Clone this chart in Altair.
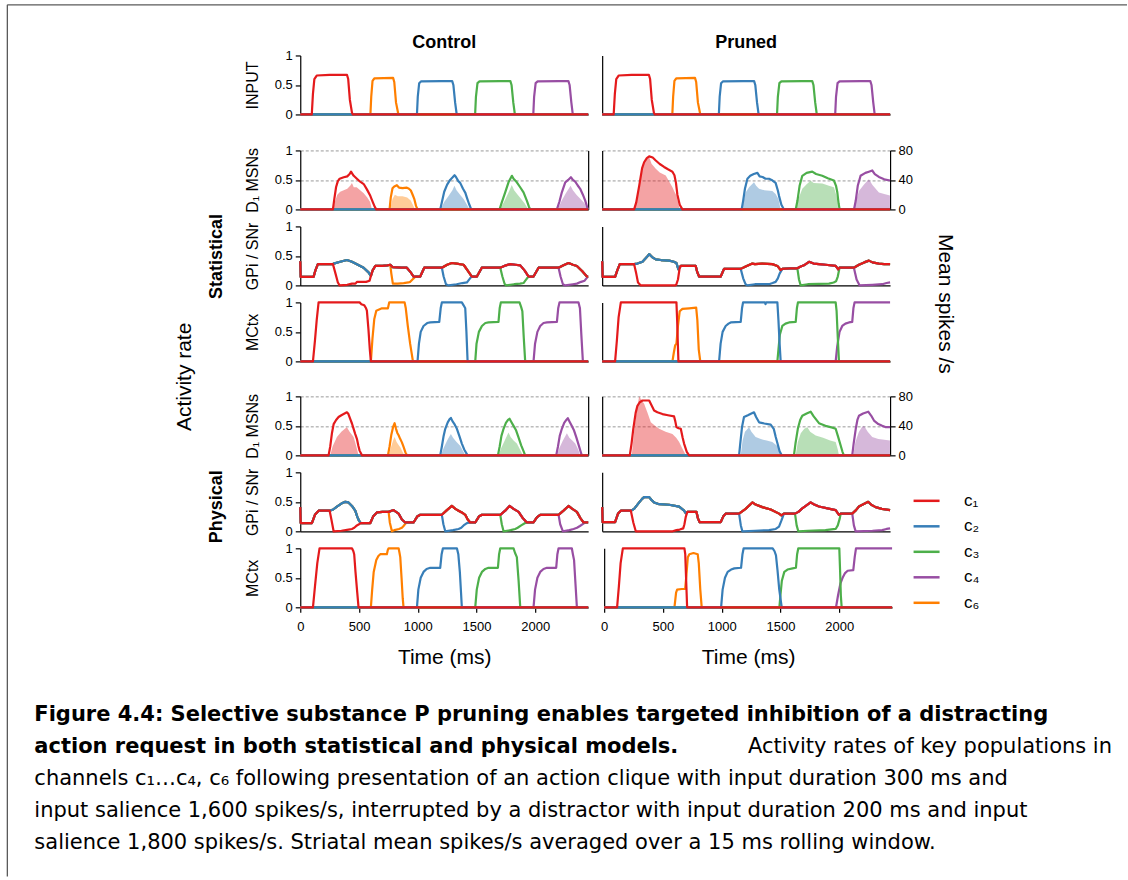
import altair as alt
import pandas as pd

FONT = "Liberation Sans"
CAPTION_FONT = "DejaVu Sans"

CHANNELS = ["c1", "c2", "c3", "c4", "c6"]
LABELS = {"c1": "c₁", "c2": "c₂", "c3": "c₃", "c4": "c₄", "c6": "c₆"}
COLORS = {"c1": "#e41a1c", "c2": "#377eb8", "c3": "#4daf4a", "c4": "#984ea3", "c6": "#ff7f00"}
DRAW_ORDER = ["c6", "c4", "c3", "c2", "c1"]  # c1 ends up on top

T_END = 2450
TIME_TICKS = [0, 500, 1000, 1500, 2000]
RATE_TICKS = [0, 0.5, 1]
SPIKE_TICKS = [0, 40, 80]

# ---------------------------------------------------------------- input drive
INPUT = {
    "c1": [(0, 0), (98, 0), (108, 0.35), (120, 0.6), (140, 0.66), (250, 0.67), (398, 0.67), (408, 0.6), (422, 0.25), (440, 0.03), (448, 0), (2450, 0)],
    "c6": [(0, 0), (597, 0), (604, 0.3), (615, 0.57), (630, 0.61), (790, 0.62), (800, 0.55), (815, 0.2), (833, 0.02), (840, 0), (2450, 0)],
    "c2": [(0, 0), (993, 0), (1000, 0.3), (1012, 0.53), (1027, 0.56), (1200, 0.565), (1293, 0.565), (1303, 0.5), (1318, 0.2), (1330, 0.02), (1336, 0), (2450, 0)],
    "c3": [(0, 0), (1488, 0), (1495, 0.3), (1508, 0.53), (1525, 0.56), (1700, 0.565), (1788, 0.565), (1798, 0.5), (1813, 0.2), (1825, 0.02), (1831, 0), (2450, 0)],
    "c4": [(0, 0), (1983, 0), (1990, 0.3), (2003, 0.53), (2020, 0.56), (2200, 0.565), (2282, 0.565), (2292, 0.5), (2307, 0.2), (2318, 0.02), (2324, 0), (2450, 0)],
}

# ---------------------------------------------------------- statistical model
STAT_CTRL_MSN = {
    "c1": [(0, 0), (278, 0), (290, 0.18), (305, 0.38), (320, 0.48), (335, 0.52), (370, 0.545), (400, 0.56), (420, 0.6), (432, 0.64), (445, 0.6), (455, 0.57), (482, 0.52), (510, 0.47), (540, 0.43), (567, 0.34), (596, 0.23), (618, 0.12), (635, 0.04), (647, 0), (2450, 0)],
    "c6": [(0, 0), (760, 0), (770, 0.2), (785, 0.36), (800, 0.39), (822, 0.41), (840, 0.37), (870, 0.36), (907, 0.37), (925, 0.35), (941, 0.32), (958, 0.24), (970, 0.18), (985, 0.06), (998, 0), (2450, 0)],
    "c2": [(0, 0), (1191, 0), (1205, 0.12), (1225, 0.3), (1250, 0.42), (1275, 0.5), (1295, 0.54), (1313, 0.58), (1325, 0.55), (1345, 0.48), (1361, 0.45), (1385, 0.35), (1405, 0.28), (1418, 0.2), (1435, 0.1), (1455, 0), (2450, 0)],
    "c3": [(0, 0), (1696, 0), (1715, 0.12), (1744, 0.29), (1772, 0.46), (1790, 0.53), (1801, 0.57), (1815, 0.52), (1843, 0.46), (1870, 0.38), (1900, 0.29), (1928, 0.15), (1945, 0.05), (1957, 0), (2450, 0)],
    "c4": [(0, 0), (2184, 0), (2205, 0.13), (2226, 0.29), (2255, 0.46), (2280, 0.5), (2303, 0.545), (2320, 0.5), (2340, 0.47), (2360, 0.41), (2382, 0.35), (2405, 0.25), (2425, 0.15), (2447, 0), (2450, 0)],
}
STAT_CTRL_SPIKES = {
    "c1": [(280, 0), (295, 10), (315, 20), (340, 24), (370, 26), (400, 28), (425, 32), (440, 36), (455, 30), (480, 30), (510, 26), (540, 22), (570, 16), (595, 10), (610, 0)],
    "c6": [(765, 0), (785, 14), (805, 20), (830, 18), (870, 18), (910, 16), (940, 12), (965, 4), (975, 0)],
    "c2": [(1195, 0), (1225, 10), (1260, 18), (1295, 26), (1312, 32), (1330, 26), (1360, 20), (1390, 14), (1420, 6), (1440, 0)],
    "c3": [(1700, 0), (1740, 12), (1775, 24), (1800, 33), (1820, 26), (1850, 20), (1880, 14), (1910, 8), (1940, 0)],
    "c4": [(2190, 0), (2225, 12), (2260, 22), (2300, 32), (2320, 26), (2350, 20), (2385, 14), (2420, 8), (2440, 0)],
}
STAT_PRUN_MSN = {
    "c1": [(0, 0), (272, 0), (290, 0.12), (315, 0.4), (340, 0.7), (357, 0.8), (380, 0.87), (400, 0.9), (430, 0.88), (456, 0.83), (490, 0.77), (527, 0.72), (560, 0.68), (598, 0.64), (615, 0.58), (628, 0.45), (640, 0.25), (660, 0.08), (683, 0), (2450, 0)],
    "c6": [(0, 0), (2450, 0)],
    "c2": [(0, 0), (1187, 0), (1200, 0.15), (1215, 0.35), (1236, 0.52), (1260, 0.57), (1290, 0.6), (1321, 0.62), (1340, 0.56), (1365, 0.55), (1390, 0.52), (1420, 0.52), (1450, 0.49), (1476, 0.45), (1495, 0.32), (1505, 0.23), (1525, 0.08), (1547, 0), (2450, 0)],
    "c3": [(0, 0), (1647, 0), (1662, 0.15), (1680, 0.4), (1703, 0.57), (1740, 0.62), (1788, 0.64), (1820, 0.6), (1873, 0.57), (1920, 0.53), (1972, 0.49), (1990, 0.4), (2001, 0.29), (2012, 0.1), (2021, 0), (2450, 0)],
    "c4": [(0, 0), (2143, 0), (2158, 0.15), (2175, 0.4), (2199, 0.57), (2240, 0.62), (2270, 0.64), (2298, 0.66), (2320, 0.6), (2355, 0.55), (2400, 0.51), (2450, 0.49)],
}
STAT_PRUN_SPIKES = {
    "c1": [(275, 0), (290, 10), (315, 32), (340, 52), (357, 64), (380, 68), (400, 71), (420, 62), (456, 55), (490, 50), (541, 46), (570, 38), (598, 30), (615, 24), (632, 19), (648, 8), (660, 0)],
    "c2": [(1190, 0), (1205, 12), (1221, 23), (1250, 30), (1292, 37), (1310, 32), (1335, 28), (1380, 26), (1448, 25), (1476, 21), (1500, 14), (1519, 0)],
    "c3": [(1650, 0), (1670, 14), (1703, 28), (1740, 34), (1774, 39), (1800, 36), (1873, 35), (1930, 32), (1972, 30), (1995, 18), (2009, 0)],
    "c4": [(2146, 0), (2165, 14), (2185, 25), (2230, 34), (2270, 41), (2300, 33), (2355, 23), (2400, 21), (2449, 19)],
}
# GPi / SNr: all unselected channels share one trace; a selected channel dips towards zero
STAT_CTRL_GPI = [(0, 0.41), (4, 0.145), (113, 0.145), (130, 0.26), (150, 0.36), (278, 0.36), (284, 0.37), (340, 0.4), (397, 0.43), (440, 0.4), (482, 0.36), (539, 0.3), (581, 0.22), (601, 0.16), (615, 0.25), (638, 0.33), (700, 0.33), (740, 0.34), (766, 0.35), (785, 0.31), (860, 0.3), (907, 0.3), (940, 0.22), (964, 0.15), (1021, 0.15), (1055, 0.3), (1205, 0.3), (1250, 0.35), (1290, 0.38), (1330, 0.37), (1390, 0.35), (1425, 0.25), (1460, 0.15), (1503, 0.15), (1545, 0.3), (1702, 0.3), (1750, 0.34), (1787, 0.36), (1830, 0.35), (1872, 0.34), (1910, 0.25), (1943, 0.15), (1985, 0.15), (2028, 0.3), (2198, 0.3), (2240, 0.34), (2283, 0.38), (2320, 0.35), (2354, 0.33), (2400, 0.24), (2439, 0.15), (2450, 0.15)]
STAT_CTRL_GPI_DIPS = {
    "c1": [(278, 0.36), (300, 0.2), (320, 0.05), (335, 0.0), (400, 0.01), (440, 0.03), (470, 0.03), (482, 0.06), (560, 0.06), (590, 0.08), (600, 0.15), (615, 0.25), (638, 0.33)],
    "c6": [(766, 0.35), (775, 0.2), (788, 0.03), (830, 0.03), (880, 0.04), (920, 0.05), (936, 0.06), (955, 0.1), (975, 0.14), (990, 0.15)],
    "c2": [(1205, 0.3), (1220, 0.15), (1240, 0.02), (1262, 0.0), (1330, 0.02), (1380, 0.04), (1418, 0.05), (1430, 0.08), (1445, 0.12), (1460, 0.15)],
    "c3": [(1702, 0.3), (1720, 0.15), (1740, 0.02), (1753, 0.0), (1820, 0.02), (1870, 0.03), (1900, 0.04), (1915, 0.08), (1930, 0.12), (1943, 0.15)],
    "c4": [(2198, 0.3), (2215, 0.15), (2235, 0.02), (2255, 0.0), (2320, 0.02), (2354, 0.03), (2390, 0.06), (2420, 0.08), (2447, 0.15)],
}
STAT_PRUN_GPI = [(0, 0.41), (4, 0.145), (110, 0.145), (128, 0.25), (150, 0.36), (272, 0.36), (300, 0.37), (343, 0.4), (380, 0.48), (400, 0.53), (425, 0.48), (456, 0.44), (500, 0.43), (570, 0.42), (610, 0.4), (632, 0.38), (649, 0.27), (669, 0.33), (796, 0.33), (810, 0.22), (825, 0.15), (1009, 0.15), (1037, 0.28), (1179, 0.28), (1221, 0.32), (1278, 0.37), (1300, 0.36), (1360, 0.37), (1448, 0.36), (1491, 0.33), (1519, 0.26), (1533, 0.28), (1600, 0.29), (1661, 0.29), (1690, 0.32), (1717, 0.34), (1760, 0.4), (1800, 0.37), (1845, 0.36), (1900, 0.35), (1987, 0.33), (2009, 0.27), (2020, 0.3), (2142, 0.3), (2185, 0.35), (2230, 0.39), (2270, 0.42), (2300, 0.39), (2355, 0.37), (2400, 0.36), (2450, 0.36)]
STAT_PRUN_GPI_DIPS = {
    "c1": [(272, 0.36), (290, 0.2), (305, 0.05), (329, 0), (500, 0), (620, 0.0), (630, 0.01), (645, 0.1), (660, 0.3), (669, 0.33)],
    "c2": [(1179, 0.28), (1200, 0.12), (1220, 0.02), (1236, 0), (1300, 0.02), (1420, 0.02), (1450, 0.04), (1476, 0.06), (1495, 0.12), (1510, 0.2), (1533, 0.28)],
    "c3": [(1661, 0.29), (1675, 0.1), (1689, 0), (1750, 0.02), (1930, 0.03), (1970, 0.05), (1990, 0.07), (2005, 0.15), (2020, 0.3)],
    "c4": [(2142, 0.3), (2165, 0.1), (2191, 0), (2300, 0.01), (2383, 0.02), (2420, 0.04), (2450, 0.05)],
}
STAT_CTRL_MCTX = {
    "c1": [(0, 0), (108, 0), (125, 0.35), (140, 0.7), (156, 1), (505, 1), (520, 0.97), (545, 0.95), (560, 0.9), (567, 0.86), (580, 0.55), (592, 0.2), (601, 0), (2450, 0)],
    "c6": [(0, 0), (601, 0), (615, 0.4), (630, 0.72), (647, 0.86), (695, 0.9), (746, 0.9), (757, 1), (888, 1), (898, 0.9), (915, 0.6), (935, 0.3), (959, 0), (2450, 0)],
    "c2": [(0, 0), (998, 0), (1010, 0.3), (1025, 0.5), (1049, 0.6), (1080, 0.65), (1106, 0.66), (1183, 0.67), (1195, 0.9), (1205, 1), (1375, 1), (1390, 0.95), (1404, 0.9), (1414, 0.5), (1424, 0), (2450, 0)],
    "c3": [(0, 0), (1489, 0), (1500, 0.3), (1520, 0.5), (1546, 0.6), (1575, 0.65), (1602, 0.66), (1687, 0.67), (1697, 0.9), (1707, 1), (1866, 1), (1880, 0.92), (1890, 0.85), (1902, 0.4), (1914, 0), (2450, 0)],
    "c4": [(0, 0), (1985, 0), (1998, 0.3), (2018, 0.5), (2042, 0.6), (2070, 0.65), (2099, 0.66), (2184, 0.67), (2195, 0.9), (2206, 1), (2368, 1), (2380, 0.9), (2392, 0.45), (2405, 0), (2450, 0)],
}
STAT_PRUN_MCTX = {
    "c1": [(0, 0), (110, 0), (125, 0.35), (140, 0.75), (159, 1), (632, 1), (638, 0.7), (644, 0.3), (649, 0), (2450, 0)],
    "c6": [(0, 0), (598, 0), (610, 0.15), (621, 0.27), (632, 0.3), (645, 0.6), (660, 0.85), (683, 0.89), (740, 0.9), (800, 0.91), (810, 0.7), (822, 0.2), (835, 0), (2450, 0)],
    "c2": [(0, 0), (995, 0), (1008, 0.3), (1025, 0.5), (1051, 0.6), (1075, 0.64), (1094, 0.66), (1179, 0.67), (1190, 0.9), (1199, 1), (1385, 1), (1390, 0.97), (1395, 1), (1491, 1), (1500, 0.7), (1510, 0.3), (1519, 0), (2450, 0)],
    "c3": [(0, 0), (1491, 0), (1500, 0.2), (1512, 0.45), (1533, 0.6), (1560, 0.64), (1590, 0.66), (1647, 0.67), (1657, 0.9), (1666, 1), (1987, 1), (1995, 0.85), (2005, 0.4), (2015, 0), (2450, 0)],
    "c4": [(0, 0), (1987, 0), (2000, 0.25), (2020, 0.5), (2043, 0.6), (2070, 0.64), (2100, 0.66), (2128, 0.67), (2138, 0.9), (2148, 1), (2450, 1)],
}

# ------------------------------------------------------------- physical model
PHYS_CTRL_MSN = {
    "c1": [(0, 0), (241, 0), (255, 0.15), (270, 0.38), (284, 0.53), (305, 0.6), (326, 0.65), (350, 0.68), (369, 0.7), (397, 0.73), (410, 0.7), (425, 0.62), (440, 0.54), (454, 0.45), (468, 0.36), (482, 0.28), (495, 0.16), (505, 0.08), (525, 0), (2450, 0)],
    "c6": [(0, 0), (746, 0), (760, 0.15), (775, 0.35), (790, 0.48), (803, 0.545), (815, 0.45), (826, 0.38), (837, 0.34), (850, 0.28), (865, 0.22), (880, 0.14), (895, 0.05), (908, 0), (2450, 0)],
    "c2": [(0, 0), (1191, 0), (1205, 0.15), (1220, 0.33), (1234, 0.45), (1255, 0.56), (1270, 0.61), (1282, 0.635), (1295, 0.58), (1315, 0.52), (1333, 0.45), (1355, 0.32), (1375, 0.2), (1395, 0.1), (1424, 0), (2450, 0)],
    "c3": [(0, 0), (1682, 0), (1697, 0.15), (1712, 0.33), (1730, 0.45), (1750, 0.55), (1768, 0.6), (1781, 0.62), (1795, 0.57), (1815, 0.5), (1835, 0.43), (1858, 0.3), (1880, 0.17), (1900, 0.07), (1914, 0), (2450, 0)],
    "c4": [(0, 0), (2178, 0), (2193, 0.15), (2208, 0.33), (2226, 0.45), (2246, 0.55), (2264, 0.6), (2277, 0.63), (2292, 0.57), (2310, 0.5), (2330, 0.42), (2350, 0.3), (2370, 0.17), (2385, 0.07), (2396, 0), (2450, 0)],
}
PHYS_CTRL_SPIKES = {
    "c1": [(255, 0), (275, 12), (312, 25), (350, 32), (380, 36), (397, 38), (420, 32), (440, 28), (454, 25), (470, 16), (482, 9), (496, 0)],
    "c6": [(752, 0), (770, 10), (790, 20), (803, 25), (820, 18), (837, 14), (851, 11), (870, 5), (885, 0)],
    "c2": [(1197, 0), (1220, 10), (1250, 20), (1270, 26), (1282, 29), (1300, 24), (1330, 18), (1361, 13), (1385, 6), (1404, 0)],
    "c3": [(1687, 0), (1710, 10), (1740, 20), (1760, 27), (1772, 31), (1790, 25), (1815, 20), (1843, 16), (1870, 8), (1894, 0)],
    "c4": [(2184, 0), (2205, 10), (2235, 20), (2255, 26), (2269, 30), (2290, 24), (2315, 20), (2340, 16), (2365, 8), (2382, 0)],
}
PHYS_PRUN_MSN = {
    "c1": [(0, 0), (235, 0), (250, 0.2), (265, 0.45), (285, 0.72), (300, 0.84), (320, 0.9), (343, 0.93), (400, 0.93), (420, 0.85), (442, 0.76), (470, 0.73), (513, 0.7), (560, 0.68), (612, 0.66), (622, 0.58), (632, 0.48), (650, 0.46), (669, 0.45), (685, 0.3), (697, 0.2), (720, 0.06), (740, 0), (2450, 0)],
    "c6": [(0, 0), (2450, 0)],
    "c2": [(0, 0), (1165, 0), (1175, 0.2), (1190, 0.48), (1207, 0.65), (1240, 0.68), (1270, 0.71), (1292, 0.73), (1310, 0.65), (1335, 0.56), (1380, 0.54), (1434, 0.52), (1460, 0.45), (1477, 0.31), (1495, 0.18), (1510, 0.07), (1528, 0), (2450, 0)],
    "c3": [(0, 0), (1632, 0), (1645, 0.2), (1665, 0.45), (1685, 0.6), (1703, 0.67), (1740, 0.71), (1774, 0.74), (1800, 0.66), (1845, 0.545), (1900, 0.5), (1960, 0.47), (1987, 0.45), (2010, 0.3), (2029, 0.17), (2045, 0.06), (2057, 0), (2450, 0)],
    "c4": [(0, 0), (2128, 0), (2140, 0.2), (2158, 0.45), (2172, 0.6), (2185, 0.67), (2220, 0.71), (2264, 0.74), (2290, 0.67), (2313, 0.59), (2350, 0.53), (2383, 0.5), (2410, 0.48), (2450, 0.48)],
}
PHYS_PRUN_SPIKES = {
    "c1": [(252, 0), (270, 30), (285, 50), (300, 67), (315, 80), (330, 76), (357, 70), (385, 58), (414, 45), (450, 40), (485, 36), (540, 32), (598, 29), (630, 24), (655, 18), (680, 10), (700, 4), (711, 0)],
    "c2": [(1179, 0), (1195, 20), (1215, 32), (1250, 38), (1270, 32), (1306, 25), (1350, 22), (1400, 20), (1448, 18), (1480, 14), (1505, 11), (1519, 0)],
    "c3": [(1647, 0), (1665, 18), (1690, 30), (1720, 36), (1746, 38), (1770, 32), (1817, 27), (1880, 24), (1940, 20), (1987, 18), (2005, 8), (2015, 0)],
    "c4": [(2137, 0), (2155, 18), (2185, 32), (2210, 38), (2228, 40), (2260, 32), (2298, 25), (2350, 22), (2400, 21), (2449, 20)],
}
PHYS_CTRL_GPI = [(0, 0.41), (4, 0.14), (99, 0.14), (125, 0.28), (156, 0.35), (250, 0.35), (280, 0.37), (312, 0.42), (350, 0.47), (383, 0.5), (410, 0.49), (440, 0.43), (468, 0.35), (485, 0.25), (500, 0.18), (515, 0.14), (596, 0.14), (620, 0.25), (652, 0.32), (700, 0.33), (752, 0.33), (794, 0.36), (815, 0.33), (837, 0.3), (865, 0.2), (893, 0.15), (964, 0.15), (995, 0.25), (1021, 0.28), (1205, 0.28), (1248, 0.36), (1290, 0.43), (1320, 0.38), (1347, 0.35), (1375, 0.32), (1404, 0.28), (1425, 0.2), (1446, 0.15), (1489, 0.15), (1520, 0.25), (1546, 0.28), (1702, 0.28), (1744, 0.35), (1781, 0.43), (1815, 0.38), (1858, 0.33), (1895, 0.22), (1928, 0.15), (1985, 0.15), (2015, 0.24), (2042, 0.28), (2198, 0.28), (2240, 0.35), (2283, 0.43), (2315, 0.38), (2354, 0.33), (2385, 0.22), (2411, 0.15), (2450, 0.15)]
PHYS_CTRL_GPI_DIPS = {
    "c1": [(250, 0.35), (265, 0.2), (284, 0), (350, 0.01), (411, 0.03), (440, 0.04), (460, 0.06), (482, 0.1), (500, 0.12), (515, 0.14)],
    "c6": [(752, 0.33), (762, 0.15), (780, 0.0), (800, 0.02), (840, 0.04), (865, 0.06), (879, 0.09), (895, 0.13), (908, 0.15)],
    "c2": [(1205, 0.28), (1218, 0.12), (1234, 0), (1300, 0.02), (1347, 0.04), (1370, 0.06), (1390, 0.1), (1418, 0.14), (1446, 0.15)],
    "c3": [(1702, 0.28), (1715, 0.12), (1730, 0), (1790, 0.02), (1829, 0.04), (1850, 0.06), (1880, 0.1), (1914, 0.14), (1928, 0.15)],
    "c4": [(2198, 0.28), (2212, 0.12), (2235, 0), (2290, 0.02), (2326, 0.04), (2355, 0.06), (2380, 0.09), (2410, 0.13), (2425, 0.15)],
}
PHYS_PRUN_GPI = [(0, 0.41), (4, 0.155), (110, 0.155), (135, 0.3), (159, 0.35), (244, 0.35), (272, 0.38), (315, 0.49), (340, 0.55), (357, 0.58), (400, 0.58), (420, 0.53), (442, 0.49), (485, 0.46), (570, 0.45), (655, 0.42), (697, 0.35), (711, 0.31), (725, 0.33), (802, 0.33), (815, 0.22), (830, 0.155), (1009, 0.155), (1030, 0.25), (1051, 0.3), (1165, 0.3), (1221, 0.38), (1278, 0.49), (1300, 0.46), (1363, 0.41), (1434, 0.37), (1505, 0.3), (1525, 0.27), (1547, 0.3), (1641, 0.3), (1670, 0.33), (1703, 0.39), (1774, 0.49), (1800, 0.46), (1845, 0.42), (1987, 0.36), (2015, 0.28), (2030, 0.3), (2128, 0.3), (2160, 0.36), (2185, 0.42), (2264, 0.5), (2290, 0.45), (2327, 0.41), (2380, 0.38), (2450, 0.36)]
PHYS_PRUN_GPI_DIPS = {
    "c1": [(244, 0.35), (265, 0.15), (286, 0), (600, 0), (632, 0.02), (660, 0.03), (690, 0.05), (700, 0.12), (712, 0.25), (725, 0.33)],
    "c2": [(1165, 0.3), (1180, 0.1), (1193, 0), (1300, 0.01), (1420, 0.02), (1477, 0.04), (1505, 0.08), (1525, 0.18), (1547, 0.3)],
    "c3": [(1641, 0.3), (1655, 0.1), (1669, 0), (1750, 0.01), (1900, 0.02), (1987, 0.04), (2005, 0.1), (2022, 0.22), (2030, 0.3)],
    "c4": [(2128, 0.3), (2142, 0.1), (2157, 0), (2300, 0.01), (2383, 0.02), (2420, 0.04), (2450, 0.05)],
}
PHYS_CTRL_MCTX = {
    "c1": [(0, 0), (108, 0), (125, 0.35), (145, 0.75), (164, 1), (440, 1), (452, 0.95), (459, 0.9), (470, 0.6), (485, 0.25), (496, 0), (2450, 0)],
    "c6": [(0, 0), (601, 0), (612, 0.3), (625, 0.6), (647, 0.8), (665, 0.87), (681, 0.9), (737, 0.9), (745, 0.97), (752, 1), (837, 1), (844, 0.93), (851, 0.85), (862, 0.5), (872, 0.15), (879, 0), (2450, 0)],
    "c2": [(0, 0), (993, 0), (1005, 0.3), (1025, 0.5), (1049, 0.6), (1075, 0.65), (1106, 0.67), (1191, 0.67), (1203, 0.9), (1214, 1), (1333, 1), (1345, 0.9), (1358, 0.6), (1368, 0.25), (1375, 0), (2450, 0)],
    "c3": [(0, 0), (1489, 0), (1502, 0.3), (1522, 0.5), (1546, 0.6), (1575, 0.65), (1602, 0.67), (1682, 0.67), (1692, 0.9), (1702, 1), (1815, 1), (1828, 0.92), (1843, 0.85), (1858, 0.45), (1872, 0), (2450, 0)],
    "c4": [(0, 0), (1985, 0), (1998, 0.3), (2018, 0.5), (2042, 0.6), (2070, 0.65), (2099, 0.67), (2178, 0.67), (2188, 0.9), (2198, 1), (2311, 1), (2320, 0.9), (2330, 0.8), (2342, 0.4), (2354, 0), (2450, 0)],
}
PHYS_PRUN_MCTX = {
    "c1": [(0, 0), (110, 0), (125, 0.35), (140, 0.75), (159, 1), (683, 1), (690, 0.9), (697, 0.5), (706, 0), (2450, 0)],
    "c6": [(0, 0), (598, 0), (605, 0.12), (612, 0.25), (621, 0.3), (660, 0.31), (689, 0.31), (700, 0.55), (712, 0.85), (725, 0.9), (760, 0.92), (796, 0.9), (805, 0.75), (818, 0.3), (830, 0), (2450, 0)],
    "c2": [(0, 0), (995, 0), (1008, 0.3), (1028, 0.5), (1051, 0.6), (1080, 0.64), (1108, 0.66), (1165, 0.67), (1177, 0.9), (1187, 1), (1434, 1), (1450, 0.95), (1462, 0.88), (1475, 0.63), (1490, 0.3), (1511, 0), (2450, 0)],
    "c3": [(0, 0), (1491, 0), (1500, 0.2), (1512, 0.45), (1533, 0.6), (1560, 0.64), (1604, 0.66), (1632, 0.67), (1642, 0.9), (1652, 1), (2001, 1), (2008, 0.6), (2014, 0.2), (2021, 0), (2450, 0)],
    "c4": [(0, 0), (1973, 0), (1990, 0.2), (2010, 0.4), (2029, 0.5), (2050, 0.58), (2072, 0.62), (2120, 0.63), (2132, 0.85), (2143, 1), (2450, 1)],
}

CAPTION_BOLD = [
    "Figure 4.4: Selective substance P pruning enables targeted inhibition of a distracting",
    "action request in both statistical and physical models.",
]
CAPTION_TAIL = ["Activity rates of key populations in"]
CAPTION_BODY = [
    "channels c₁…c₄, c₆ following presentation of an action clique with input duration 300 ms and",
    "input salience 1,600 spikes/s, interrupted by a distractor with input duration 200 ms and input",
    "salience 1,800 spikes/s. Striatal mean spikes/s averaged over a 15 ms rolling window.",
]

# ------------------------------------------------------------------- helpers
W, H = 288, 59


def splice(common, dip):
    """Shared GPi trace with one channel's own dip substituted in its window."""
    t0, t1 = dip[0][0], dip[-1][0]
    return [p for p in common if p[0] < t0] + dip + [p for p in common if p[0] > t1]


def gpi_traces(common, dips):
    return {c: (splice(common, dips[c]) if c in dips else list(common)) for c in CHANNELS}


def frame(points, ch, key="v"):
    return pd.DataFrame({"t": [p[0] for p in points], key: [p[1] for p in points], "ch": LABELS[ch]})


X_SCALE = alt.Scale(domain=[0, T_END], nice=False, zero=False)
RATE_SCALE = alt.Scale(domain=[0, 1], nice=False)
SPIKE_SCALE = alt.Scale(domain=[0, 80], nice=False)
COLOR_SCALE = alt.Scale(domain=[LABELS[c] for c in CHANNELS], range=[COLORS[c] for c in CHANNELS])
LEGEND = alt.Legend(
    title=None, orient="none", legendX=612, legendY=431, symbolType="stroke",
    symbolSize=676, symbolStrokeWidth=2.5, labelFont=FONT, labelFontSize=17,
    labelColor="black", labelOffset=23, rowPadding=2.5, padding=0,
)


def panel(traces, left, ytitle=None, spikes=None, bottom=False, spike_labels=False):
    if bottom:
        x_axis = alt.Axis(values=TIME_TICKS, format="d", title="Time (ms)", titleFontSize=21,
                          titlePadding=13, labelPadding=8, tickSize=5, labelFlush=False)
    else:
        x_axis = alt.Axis(labels=False, ticks=False, title=None)
    x = alt.X("t:Q", scale=X_SCALE, axis=x_axis)

    grid = dict(grid=True, gridDash=[3, 2], gridColor="#808080", gridWidth=0.8) if spikes is not None else {}
    if left:
        y_axis = alt.Axis(orient="left", values=RATE_TICKS, format="~g", title=ytitle,
                          tickSize=5, labelPadding=3, titlePadding=14, **grid)
    else:
        y_axis = alt.Axis(orient="left", values=RATE_TICKS, labels=False, ticks=False, title=None, **grid)
    y = alt.Y("v:Q", scale=RATE_SCALE, axis=y_axis)
    color = alt.Color("ch:N", scale=COLOR_SCALE, legend=LEGEND)

    lines = alt.layer(*[
        alt.Chart(frame(traces[c], c)).mark_line(strokeWidth=2.2, strokeJoin="round").encode(x=x, y=y, color=color)
        for c in DRAW_ORDER if c in traces
    ])
    if spikes is None:
        return lines.properties(width=W, height=H)

    s_axis = alt.Axis(orient="right", values=SPIKE_TICKS, title=None, labels=spike_labels,
                      ticks=spike_labels, tickSize=5, labelPadding=3)
    sy = alt.Y("s:Q", scale=SPIKE_SCALE, axis=s_axis)
    areas = alt.layer(*[
        alt.Chart(frame(spikes[c], c, "s")).mark_area(color=COLORS[c], opacity=0.4).encode(x=x, y=sy)
        for c in DRAW_ORDER if c in spikes
    ])
    return alt.layer(areas, lines).resolve_scale(y="independent").properties(width=W, height=H)


def pair(a, b):
    return alt.hconcat(a, b, spacing=10)


def col_title(text, offset):
    return alt.TitleParams(text, fontSize=18, fontWeight="bold", font=FONT, anchor="middle", offset=offset)


# ------------------------------------------------------------------ panels
input_row = pair(
    panel(INPUT, True, "INPUT").properties(title=col_title("Control", -3)),
    panel(INPUT, False).properties(title=col_title("Pruned", 3)),
)

MSN_TITLE = "D₁ MSNs"
GPI_TITLE = "GPi / SNr"
CTX_TITLE = "MCtx"

stat = alt.vconcat(
    pair(panel(STAT_CTRL_MSN, True, MSN_TITLE, STAT_CTRL_SPIKES),
         panel(STAT_PRUN_MSN, False, spikes=STAT_PRUN_SPIKES, spike_labels=True)),
    pair(panel(gpi_traces(STAT_CTRL_GPI, STAT_CTRL_GPI_DIPS), True, GPI_TITLE),
         panel(gpi_traces(STAT_PRUN_GPI, STAT_PRUN_GPI_DIPS), False)),
    pair(panel(STAT_CTRL_MCTX, True, CTX_TITLE),
         panel(STAT_PRUN_MCTX, False)),
    spacing=4,
).properties(title=alt.TitleParams("Statistical", orient="left", anchor="middle", fontSize=18,
                                   fontWeight="bold", font=FONT, offset=18))

phys = alt.vconcat(
    pair(panel(PHYS_CTRL_MSN, True, MSN_TITLE, PHYS_CTRL_SPIKES),
         panel(PHYS_PRUN_MSN, False, spikes=PHYS_PRUN_SPIKES, spike_labels=True)),
    pair(panel(gpi_traces(PHYS_CTRL_GPI, PHYS_CTRL_GPI_DIPS), True, GPI_TITLE),
         panel(gpi_traces(PHYS_PRUN_GPI, PHYS_PRUN_GPI_DIPS), False)),
    pair(panel(PHYS_CTRL_MCTX, True, CTX_TITLE, bottom=True),
         panel(PHYS_PRUN_MCTX, False, bottom=True)),
    spacing=4,
).properties(title=alt.TitleParams("Physical", orient="left", anchor="middle", fontSize=18,
                                   fontWeight="bold", font=FONT, offset=18, dx=22))

models = alt.vconcat(stat, phys, spacing=22).properties(
    title=alt.TitleParams("Activity rate", orient="left", anchor="middle", fontSize=21,
                          fontWeight="normal", font=FONT, offset=13, dx=29))

with_spikes = alt.vconcat(models).properties(
    title=alt.TitleParams("Mean spikes /s", orient="right", anchor="middle", fontSize=21,
                          fontWeight="normal", font=FONT, offset=22, dx=-102))

figure = alt.vconcat(input_row, with_spikes, spacing=23)

# ----------------------------------------------------------------- caption
LINE_Y = alt.Y("line:Q", scale=alt.Scale(domain=[0, 4], range=[0, 128]), axis=None)


def caption_block(lines, first, x_px, bold, align="left"):
    df = pd.DataFrame({"line": list(range(first, first + len(lines))), "text": lines})
    return alt.Chart(df).mark_text(
        align=align, baseline="alphabetic", font=CAPTION_FONT, fontSize=21,
        fontWeight="bold" if bold else "normal", color="black",
    ).encode(x=alt.value(x_px), y=LINE_Y, text="text:N")


# thin page border running along the left and top edges of the figure box
BORDER = pd.DataFrame({"edge": ["left", "top"]})
border_left = alt.Chart(BORDER).transform_filter(alt.datum.edge == "left").mark_rule(
    color="#5a5a5a", strokeWidth=1.3).encode(x=alt.value(-293), y=alt.value(-716), y2=alt.value(156))
border_top = alt.Chart(BORDER).transform_filter(alt.datum.edge == "top").mark_rule(
    color="#5a5a5a", strokeWidth=1.3).encode(x=alt.value(-293), x2=alt.value(827), y=alt.value(-716))

caption = alt.layer(
    border_left,
    border_top,
    caption_block(CAPTION_BOLD, 0, -266, True),
    caption_block(CAPTION_TAIL, 1, 812, False, align="right"),
    caption_block(CAPTION_BODY, 2, -266, False),
).properties(width=812, height=128)

chart = (
    alt.vconcat(figure, caption, spacing=-663.65)
    .properties(padding={"left": 6.35, "top": 3.35, "right": 0, "bottom": 0}, background="white")
    .configure_view(strokeWidth=0)
    .configure_axis(
        domainColor="black", domainWidth=1.2, tickColor="black", tickWidth=1.2,
        labelColor="black", labelFont=FONT, labelFontSize=13, titleFont=FONT,
        titleFontSize=16, titleFontWeight="normal", titleColor="black", grid=False,
    )
    .configure_title(font=FONT, color="black")
)

chart.save("out.html", embed_options={"renderer": "svg", "actions": False})
